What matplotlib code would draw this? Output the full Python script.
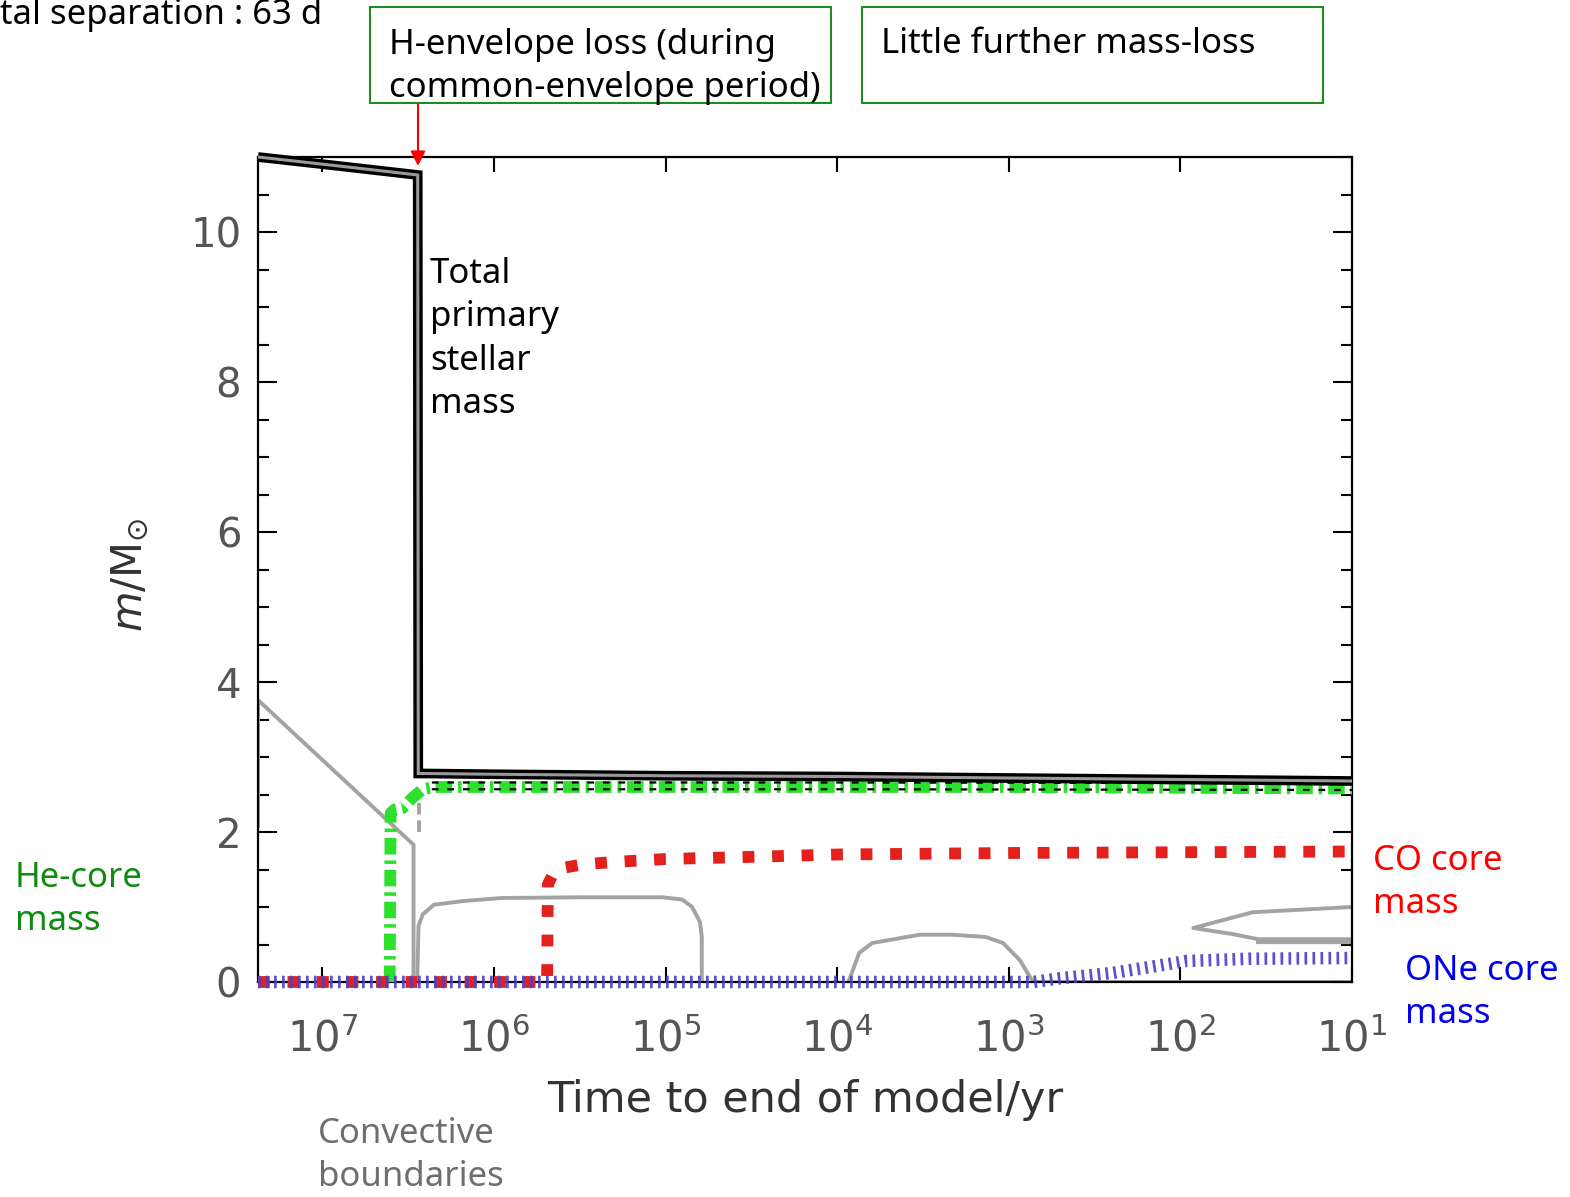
import numpy as np
import matplotlib.pyplot as plt
from matplotlib.patches import Rectangle
from matplotlib.ticker import FixedLocator, MultipleLocator, NullLocator, FixedFormatter

# --- data (time to end of model in yr, mass in Msun) ---
t_total = [2.37e7, 8e6, 2.78e6, 2.76e6, 2.5e6, 1e6, 1e5, 1e4, 1e3, 1e2, 10]
m_total = [11.0, 10.88, 10.76, 2.78, 2.78, 2.77, 2.75, 2.74, 2.72, 2.70, 2.68]

t_he = [4.05e6, 4.0e6, 3.8e6, 3.4e6, 3.0e6, 2.6e6, 2.2e6, 1e6, 1e5, 1e4, 1e3, 1e2, 10]
m_he = [0, 2.25, 2.3, 2.32, 2.45, 2.57, 2.6, 2.6, 2.6, 2.6, 2.6, 2.59, 2.58]

t_edge = [2.3e6, 1e4, 10]
m_edge_hi = [2.66, 2.66, 2.65]
m_edge_lo = [2.57, 2.57, 2.56]

t_co = [2.37e7, 4.9e5, 4.85e5, 4.5e5, 4e5, 3e5, 2e5, 1e5, 3e4, 1e4, 1e3, 1e2, 10]
m_co = [0, 0, 1.3, 1.45, 1.52, 1.57, 1.6, 1.64, 1.67, 1.7, 1.72, 1.73, 1.74]

t_one = [2.37e7, 720, 500, 250, 150, 92, 40, 10]
m_one = [0, 0, 0.05, 0.12, 0.2, 0.28, 0.31, 0.32]

# convective boundaries (gray)
conv = [
    ([2.37e7, 2.37e7], [2.05, 3.76]),
    ([2.37e7, 2.94e6, 2.94e6], [3.76, 1.83, 0]),
    ([2.8e6, 2.75e6, 2.6e6, 2.24e6, 1.5e6, 9e5, 3e5, 1.05e5, 8e4, 7e4, 6.3e4, 6.15e4, 6.15e4],
     [0, 0.75, 0.9, 1.03, 1.08, 1.12, 1.13, 1.13, 1.1, 1.0, 0.8, 0.6, 0]),
    ([8600, 7430, 6240, 3310, 2120, 1360, 1080, 861, 723],
     [0, 0.39, 0.52, 0.63, 0.63, 0.6, 0.52, 0.29, 0]),
    ([720, 10], [0, 0]),
    ([10, 38, 84, 50, 35, 10], [1.0, 0.93, 0.72, 0.64, 0.57, 0.57]),
]
t_conv_dash = [2.75e6, 2.75e6]
m_conv_dash = [2.0, 2.55]

xticks = [1e7, 1e6, 1e5, 1e4, 1e3, 1e2, 1e1]
xlabels = [r'$10^{7}$', r'$10^{6}$', r'$10^{5}$', r'$10^{4}$', r'$10^{3}$', r'$10^{2}$', r'$10^{1}$']

W, H = 1570, 1197
fig = plt.figure(figsize=(W / 100, H / 100), dpi=100)
ax = fig.add_axes([258 / W, 1 - 982 / H, (1352 - 258) / W, (982 - 157) / H])

gray = '#a3a3a3'
for tt, mm in conv:
    ax.plot(tt, mm, color=gray, lw=2.8, zorder=2, solid_capstyle='butt')
ax.plot([35, 10], [0.545, 0.545], color=gray, lw=4.5, zorder=2)
ax.plot(t_conv_dash, m_conv_dash, color=gray, lw=2.8, ls=(0, (3, 1.5)), zorder=2)

# He core
ax.plot(t_he, m_he, color='#2ee02e', lw=8.5, ls=(0, (1.4, 0.5, 0.3, 0.5)), zorder=3)
ax.plot(t_edge, m_edge_hi, color='black', lw=1.6, ls=(0, (3, 4)), zorder=4)
ax.plot(t_edge, m_edge_lo, color='black', lw=1.6, ls=(0, (3, 4)), zorder=4)

# CO core
ax.plot(t_co, m_co, color='#e3201b', lw=8.5, ls=(0, (1, 1.5)), zorder=4, clip_on=False)
# ONe core
ax.plot(t_one, m_one, color='#4b3fc4', lw=9, ls=(0, (0.22, 0.42)), zorder=5, clip_on=False, alpha=0.9)

# total mass (black double line with gray core)
ax.plot(t_total, m_total, color='black', lw=7, zorder=6, clip_on=False,
        solid_joinstyle='miter', solid_capstyle='butt')
ax.plot(t_total, m_total, color='#9a9a9a', lw=2.2, zorder=7, clip_on=False,
        solid_joinstyle='miter', solid_capstyle='butt')

ax.set_xscale('log')
ax.set_xlim(2.37e7, 10)
ax.set_ylim(0, 11)
ax.xaxis.set_major_locator(FixedLocator(xticks))
ax.xaxis.set_major_formatter(FixedFormatter(xlabels))
ax.xaxis.set_minor_locator(NullLocator())
ax.yaxis.set_major_locator(MultipleLocator(2))
ax.yaxis.set_minor_locator(MultipleLocator(0.5))

ax.tick_params(axis='y', which='major', direction='in', length=14, width=1.5,
               left=True, right=True, labelsize=29, labelcolor='#555555', pad=12)
ax.tick_params(axis='y', which='minor', direction='in', length=8, width=1.5,
               left=True, right=True)
ax.tick_params(axis='x', which='major', direction='in', length=11, width=1.5,
               top=True, bottom=True, labelsize=30, labelcolor='#555555', pad=26)
for s in ax.spines.values():
    s.set_linewidth(1.6)

ax.set_xlabel('Time to end of model/yr', fontsize=31, color='#333333', labelpad=13)
fig.text(130 / W, 1 - 575 / H, r'$m/\mathrm{M}_{\odot}$', fontsize=30, color='#333333',
         rotation=90, ha='center', va='center')


def px(x, y):
    return x / W, 1 - y / H


font = 'Noto Sans'
fs = 25
ls = 1.36

# annotation boxes (text y = baseline of the last line)
for x0, x1 in [(370, 831), (862, 1323)]:
    fig.patches.append(Rectangle(px(x0, 103), (x1 - x0) / W, 96 / H, transform=fig.transFigure,
                                 facecolor='white', edgecolor='#1e8c1e', lw=1.5))
fig.text(*px(389, 97), 'H-envelope loss (during\ncommon-envelope period)', family=font,
         fontsize=fs, va='baseline', ha='left', linespacing=ls)
fig.text(*px(881, 53), 'Little further mass-loss', family=font, fontsize=fs, va='baseline', ha='left')
fig.text(*px(0, 24), 'tal separation : 63 d', family=font, fontsize=fs,
         va='baseline', ha='left')

ax.annotate('', xy=px(418, 166), xytext=px(418, 103), xycoords='figure fraction',
            textcoords='figure fraction',
            arrowprops=dict(arrowstyle='-|>', color='red', lw=1.5, mutation_scale=22,
                            shrinkA=0, shrinkB=0))

fig.text(*px(430, 413), 'Total\nprimary\nstellar\nmass', family=font, fontsize=fs,
         va='baseline', ha='left', linespacing=ls)
fig.text(*px(15, 930), 'He-core\nmass', family=font, fontsize=fs, color='#0f8c0f',
         va='baseline', ha='left', linespacing=ls)
fig.text(*px(1373, 913), 'CO core\nmass', family=font, fontsize=fs, color='#ff0000',
         va='baseline', ha='left', linespacing=ls)
fig.text(*px(1405, 1023), 'ONe core\nmass', family=font, fontsize=fs, color='#0000ee',
         va='baseline', ha='left', linespacing=ls)
fig.text(*px(318, 1186), 'Convective\nboundaries', family=font, fontsize=fs, color='#6e6e6e',
         va='baseline', ha='left', linespacing=ls)

fig.savefig('out.png', dpi=100)
